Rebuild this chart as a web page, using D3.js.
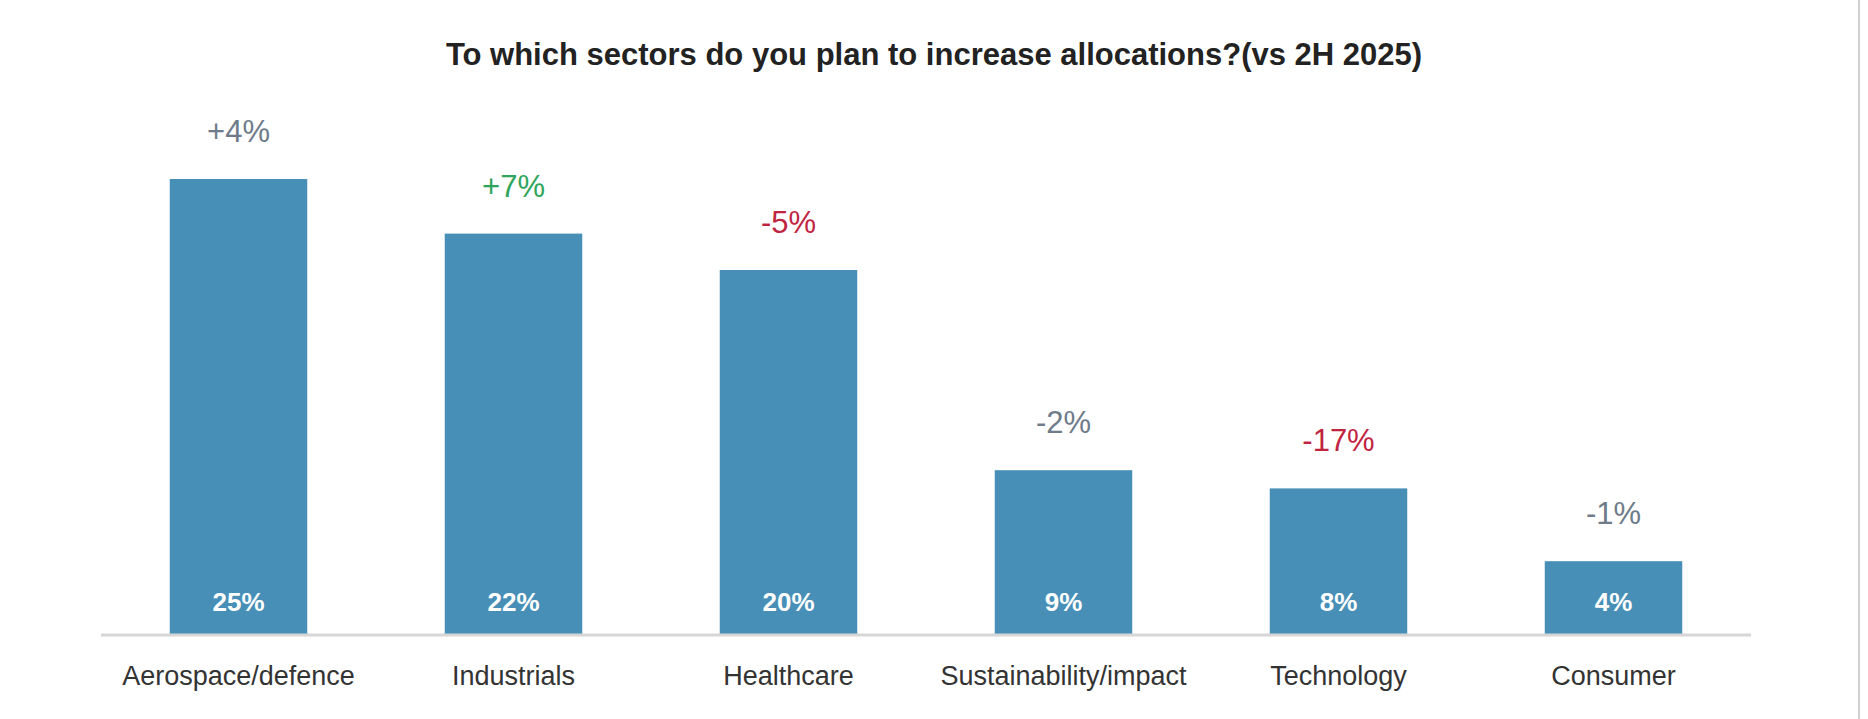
<!DOCTYPE html>
<html>
<head>
<meta charset="utf-8">
<script src="https://cdn.jsdelivr.net/npm/d3@7"></script>
<style>
  body { margin: 0; background: #fff; }
  text { font-family: "Liberation Sans", Arial, sans-serif; }
</style>
</head>
<body>
<svg id="chart" width="1868" height="719"></svg>
<script>
var categories = ['Aerospace/defence', 'Industrials', 'Healthcare', 'Sustainability/impact', 'Technology', 'Consumer'];
var shares = [25, 22, 20, 9, 8, 4];
var changes = ['+4%', '+7%', '-5%', '-2%', '-17%', '-1%'];
var changeTone = ['flat', 'up', 'down', 'flat', 'down', 'flat'];

var toneColor = { flat: '#6e7b89', up: '#2fa55b', down: '#c1243f' };

var svg = d3.select('#chart');
var baseY = 634;

var x = d3.scaleBand().domain(categories).range([101, 1751]).paddingInner(0.5).paddingOuter(0.25);
var y = d3.scaleLinear().domain([0, 25]).range([baseY, 179]);

svg.append('text')
	.attr('x', 934).attr('y', 65)
	.attr('text-anchor', 'middle')
	.style('font-size', '31px').style('font-weight', 'bold').style('fill', '#222')
	.text('To which sectors do you plan to increase allocations?(vs 2H 2025)');

// right border line
svg.append('line').attr('x1', 1859).attr('x2', 1859).attr('y1', 0).attr('y2', 719)
	.style('stroke', '#d0d0d0').style('stroke-width', 2);

svg.selectAll('rect.bar').data(shares).enter().append('rect')
	.attr('class', 'bar')
	.attr('x', function(d, i) { return x(categories[i]); })
	.attr('width', x.bandwidth())
	.attr('y', function(d) { return y(d); })
	.attr('height', function(d) { return baseY - y(d); })
	.style('fill', '#478fb7');

svg.append('line').attr('x1', 101).attr('x2', 1751).attr('y1', baseY + 1).attr('y2', baseY + 1)
	.style('stroke', '#d6d6d6').style('stroke-width', 3);

svg.selectAll('text.val').data(shares).enter().append('text')
	.attr('class', 'val')
	.attr('x', function(d, i) { return x(categories[i]) + x.bandwidth() / 2; })
	.attr('y', 611)
	.attr('text-anchor', 'middle')
	.style('font-size', '26px').style('font-weight', 'bold').style('fill', '#fff')
	.text(function(d) { return d + '%'; });

svg.selectAll('text.chg').data(changes).enter().append('text')
	.attr('class', 'chg')
	.attr('x', function(d, i) { return x(categories[i]) + x.bandwidth() / 2; })
	.attr('y', function(d, i) { return y(shares[i]) - 37; })
	.attr('text-anchor', 'middle')
	.style('font-size', '31px')
	.style('fill', function(d, i) { return toneColor[changeTone[i]]; })
	.text(function(d) { return d; });

svg.selectAll('text.cat').data(categories).enter().append('text')
	.attr('class', 'cat')
	.attr('x', function(d) { return x(d) + x.bandwidth() / 2; })
	.attr('y', 685)
	.attr('text-anchor', 'middle')
	.style('font-size', '27px').style('fill', '#333')
	.text(function(d) { return d; });
</script>
</body>
</html>
